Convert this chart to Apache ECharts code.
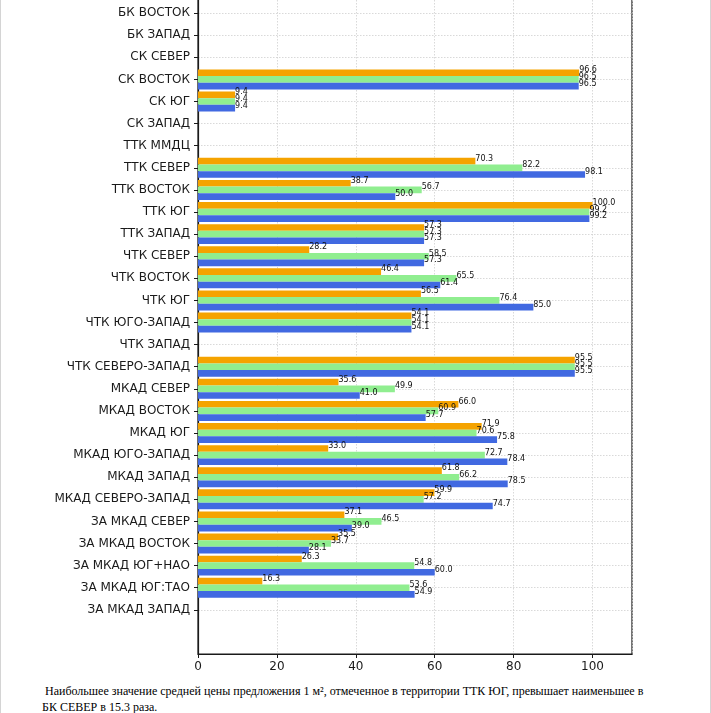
<!DOCTYPE html>
<html>
<head>
<meta charset="utf-8">
<script src="https://cdn.jsdelivr.net/npm/echarts@6/dist/echarts.min.js"></script>
<style>
  html, body { margin: 0; padding: 0; background: #fff; }
  #page { position: relative; width: 711px; height: 713px; box-sizing: border-box;
          border-left: 1px solid #d4d4d4; border-right: 1px solid #d4d4d4; overflow: hidden; }
  #chart { position: absolute; left: 0; top: -40px; width: 711px; height: 720px; }
  #note { position: absolute; left: 41px; top: 683px; width: 608px;
          font-family: 'Liberation Serif', 'Times New Roman', serif; font-size: 12px;
          line-height: 16px; color: #000; }
</style>
</head>
<body>
<div id="page">
  <div id="chart"></div>
  <div id="note">&nbsp;Наибольшее значение средней цены предложения 1 м², отмеченное в территории ТТК ЮГ, превышает наименьшее в БК СЕВЕР в 15.3 раза.</div>
</div>
<script>
const categories = [
  'БК СЕВЕР', 'БК ВОСТОК', 'БК ЗАПАД', 'СК СЕВЕР', 'СК ВОСТОК', 'СК ЮГ', 'СК ЗАПАД',
  'ТТК ММДЦ', 'ТТК СЕВЕР', 'ТТК ВОСТОК', 'ТТК ЮГ', 'ТТК ЗАПАД',
  'ЧТК СЕВЕР', 'ЧТК ВОСТОК', 'ЧТК ЮГ', 'ЧТК ЮГО-ЗАПАД', 'ЧТК ЗАПАД', 'ЧТК СЕВЕРО-ЗАПАД',
  'МКАД СЕВЕР', 'МКАД ВОСТОК', 'МКАД ЮГ', 'МКАД ЮГО-ЗАПАД', 'МКАД ЗАПАД', 'МКАД СЕВЕРО-ЗАПАД',
  'ЗА МКАД СЕВЕР', 'ЗА МКАД ВОСТОК', 'ЗА МКАД ЮГ+НАО', 'ЗА МКАД ЮГ:ТАО', 'ЗА МКАД ЗАПАД',
  '', ''
];
const seriesOrange = [
  null, null, null, null, 96.6, 9.4, null,
  null, 70.3, 38.7, 100.0, 57.3,
  28.2, 46.4, 56.5, 54.1, null, 95.5,
  35.6, 66.0, 71.9, 33.0, 61.8, 59.9,
  37.1, 35.5, 26.3, 16.3, null,
  null, null
];
const seriesGreen = [
  6.5, null, null, null, 96.5, 9.4, null,
  null, 82.2, 56.7, 99.2, 57.3,
  58.5, 65.5, 76.4, 54.1, null, 95.5,
  49.9, 60.9, 70.6, 72.7, 66.2, 57.2,
  46.5, 33.7, 54.8, 53.6, null,
  null, null
];
const seriesBlue = [
  null, null, null, null, 96.5, 9.4, null,
  null, 98.1, 50.0, 99.2, 57.3,
  57.3, 61.4, 85.0, 54.1, null, 95.5,
  41.0, 57.7, 75.8, 78.4, 78.5, 74.7,
  39.0, 28.1, 60.0, 54.9, null,
  null, null
];
const xTicks = { min: 0, max: 110, interval: 20 };

const font = 'DejaVu Sans';
const isReal = (i, v) => v !== '';
const labelCfg = {
  show: true, position: 'right', distance: 0, offset: [0, -2.5],
  fontFamily: font, fontSize: 8, color: '#111',
  formatter: p => (p.value == null ? '' : Number(p.value).toFixed(1))
};
function mk(name, data, color) {
  return {
    name, type: 'bar', data, barWidth: 6.65, barGap: '0%',
    itemStyle: { color }, label: labelCfg, animation: false
  };
}

// chart div starts 40px above the page
const chart = echarts.init(document.getElementById('chart'), null, { renderer: 'canvas' });
chart.setOption({
  animation: false,
  grid: {
    left: 197, right: 80, top: 31, bottom: 720 - (654 + 40),
    show: true, borderColor: '#1a1a1a', borderWidth: 1.2, backgroundColor: 'transparent'
  },
  xAxis: {
    type: 'value', min: xTicks.min, max: xTicks.max, interval: xTicks.interval,
    axisLine: { show: true, lineStyle: { color: '#1a1a1a', width: 1.2 } },
    axisTick: { show: true, length: 4, lineStyle: { color: '#1a1a1a' } },
    axisLabel: { showMaxLabel: false, fontFamily: font, fontSize: 12, color: '#1a1a1a', margin: 7 },
    splitLine: { show: true, lineStyle: { color: '#cfcfcf', type: [1.5, 1.5], width: 0.8 } }
  },
  yAxis: {
    type: 'category', data: categories, inverse: true, boundaryGap: false,
    axisLine: { show: true, lineStyle: { color: '#1a1a1a', width: 1.2 } },
    axisTick: { show: true, length: 4, interval: isReal, lineStyle: { color: '#1a1a1a' } },
    axisLabel: { interval: 0, fontFamily: font, fontSize: 12, color: '#1a1a1a', margin: 8 },
    splitLine: { show: true, interval: isReal, lineStyle: { color: '#cfcfcf', type: [1.5, 1.5], width: 0.8 } }
  },
  series: [
    mk('orange', seriesOrange, '#F5A300'),
    mk('green', seriesGreen, '#90EE90'),
    mk('blue', seriesBlue, '#4169E1')
  ]
});
</script>
</body>
</html>
